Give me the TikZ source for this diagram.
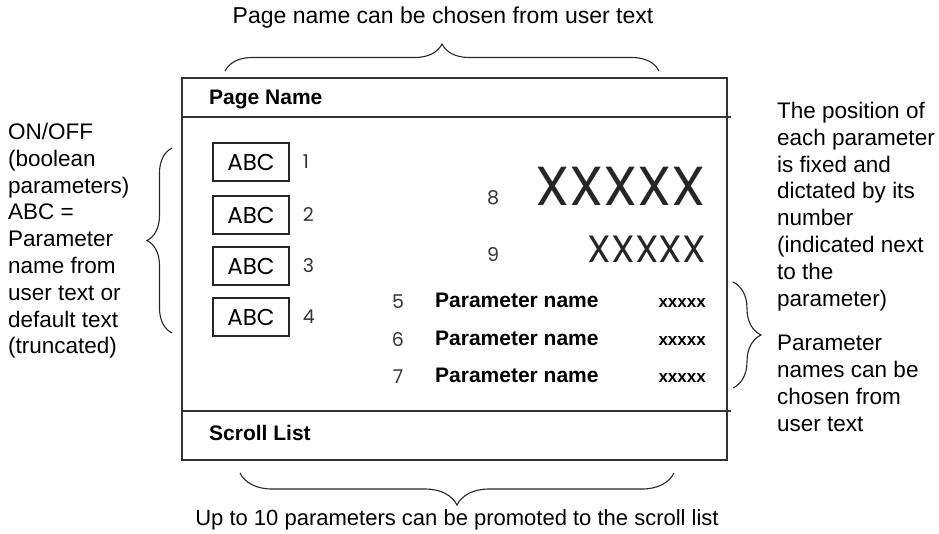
\documentclass[tikz,border=0pt]{standalone}
\usepackage{fontspec}
\setmainfont{Liberation Sans}
\newfontfamily\geofont{Poppins}
\usetikzlibrary{decorations.pathreplacing,positioning}

\tikzset{
  frame/.style={draw=black!80,line width=1.5pt},
  note/.style={align=left,inner sep=0pt,anchor=north west,font=\fontsize{22.5}{26.8}\selectfont},
  curly/.style={draw=black!85,line width=1.1pt,decorate,decoration={brace,amplitude=#1}},
  abcbox/.style={draw=black!85,line width=1.3pt,minimum width=76pt,minimum height=38pt,inner sep=0pt,font=\geofont\fontsize{23}{23}\selectfont},
  num/.style={font=\geofont\fontsize{19}{19}\selectfont,text=black!80,inner sep=0pt},
  pname/.style={font=\bfseries\fontsize{21}{21}\selectfont,anchor=west,inner sep=0pt},
  pval/.style={font=\bfseries\fontsize{17}{17}\selectfont,anchor=east,inner sep=0pt},
}

\begin{document}
\begin{tikzpicture}[x=1pt,y=-1pt]
  \useasboundingbox (0,0) rectangle (939,533);
  % display frame
  \draw[frame] (182,78) rectangle (727,460);
  \draw[frame] (182,117) -- (731,117);
  \draw[frame] (182,411) -- (731,411);
  \node[pname] (pagename) at (209,99) {Page Name};
  \node[pname] (scroll) at (209,433) {Scroll List};
  % boolean parameters
  \foreach \i/\y in {1/162,2/215,3/266,4/317} {
    \node[abcbox] (abc\i) at (251,\y) {ABC};
    \node[num,right=13pt of abc\i] (n\i) {\i};
  }
  % large values
  \node[font=\geofont\fontsize{55}{55}\selectfont,anchor=east,inner sep=0pt,text=black!85] (big8) at (706,186) {XXXXX};
  \node[num] (n8) at (493,198) {8};
  \node[font=\geofont\fontsize{38}{38}\selectfont,anchor=east,inner sep=0pt,text=black!85] (big9) at (706,249) {XXXXX};
  \node[num] (n9) at (493,255) {9};
  % named parameters
  \foreach \i/\y in {5/302,6/340,7/377} {
    \node[num] (n\i) at (398,\y) {\i};
    \node[pname] (pn\i) at (435,\y-2) {Parameter name};
    \node[pval] (pv\i) at (706,\y+1) {xxxxx};
  }
  % braces
  \coordinate (tl) at (225,71);
  \coordinate (tr) at (659,71);
  \coordinate (lb) at (172,333);
  \coordinate (lt) at (172,148);
  \coordinate (rt) at (733,282);
  \coordinate (rb) at (733,388);
  \coordinate (br) at (674,473);
  \coordinate (bl) at (240,473);
  \draw[curly=27] (tl) -- (tr);
  \draw[curly=25] (lb) -- (lt);
  \draw[curly=28] (rt) -- (rb);
  \draw[curly=32] (br) -- (bl);
  % notes
  \node[font=\fontsize{23}{26}\selectfont] (toptext) at (443,18) {Page name can be chosen from user text};
  \node[font=\fontsize{22}{26}\selectfont] (bottomtext) at (457,520) {Up to 10 parameters can be promoted to the scroll list};
  \node[note] (lefttext) at (8,123) {ON/OFF\\(boolean\\parameters)\\ABC =\\Parameter\\name from\\user text or\\default text\\(truncated)};
  \node[note] (righttext) at (777,102) {The position of\\each parameter\\is fixed and\\dictated by its\\number\\(indicated next\\to the\\parameter)};
  \node[note] (righttext2) at (777,335) {Parameter\\names can be\\chosen from\\user text};
\end{tikzpicture}
\end{document}
